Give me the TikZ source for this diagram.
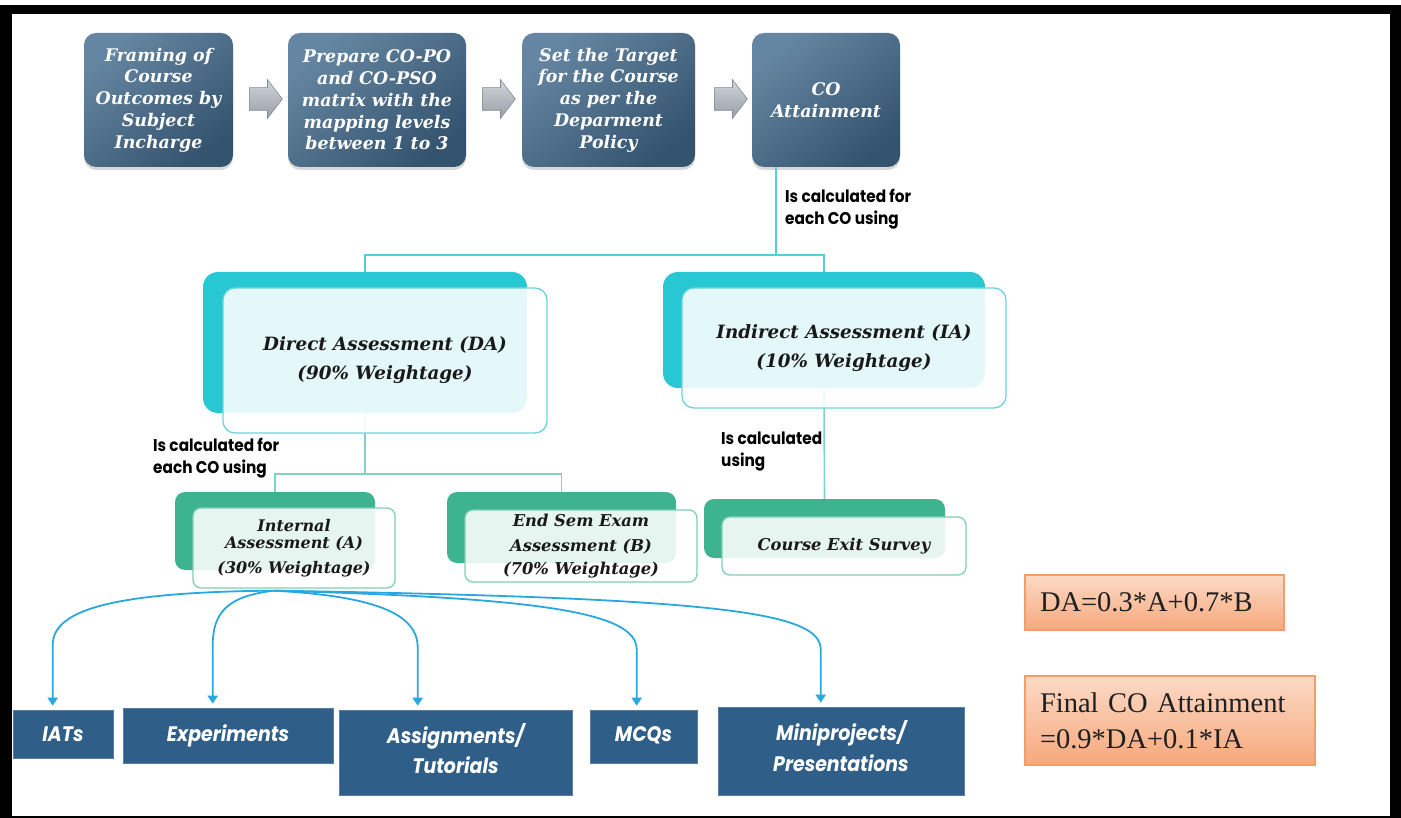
\documentclass[tikz,border=0pt]{standalone}
\usepackage{fontspec}
\setmainfont{DejaVu Serif}
\newfontfamily\formulafont{Liberation Serif}
\newfontfamily\geofont[FakeStretch=0.9]{Poppins}
\usetikzlibrary{shapes.arrows,arrows.meta,shadows,calc}

\definecolor{steellight}{HTML}{6586A2}
\definecolor{steeldark}{HTML}{34536E}
\definecolor{arrowlight}{HTML}{D0D4D9}
\definecolor{arrowdark}{HTML}{99A0A8}
\definecolor{arrowedge}{HTML}{858B93}
\definecolor{cyanback}{HTML}{27C8D3}
\definecolor{cyanedge}{HTML}{6CD3DC}
\definecolor{greenback}{HTML}{3DB38F}
\definecolor{greenedge}{HTML}{80CFB2}
\definecolor{topline}{HTML}{52CFDB}
\definecolor{mintline}{HTML}{80D3C2}
\definecolor{fanblue}{HTML}{29A8E0}
\definecolor{navybox}{HTML}{2F5E89}
\definecolor{peachtop}{HTML}{FCDAC6}
\definecolor{peachbot}{HTML}{F6A87C}
\definecolor{peachedge}{HTML}{F09E6C}

\tikzset{
  stepbox/.style={rectangle, rounded corners=12pt, inner sep=0pt,
    top color=steellight, bottom color=steeldark, shading angle=40,
    text=white, align=center,
    font=\fontsize{17.4}{21.7}\selectfont\bfseries\itshape,
    drop shadow={shadow xshift=0pt, shadow yshift=-3pt, opacity=0.3}},
  greyarrow/.style={single arrow, inner xsep=1pt, inner ysep=11pt,
    minimum height=33pt, single arrow head extend=8pt,
    single arrow tip angle=105, top color=arrowlight,
    bottom color=arrowdark, draw=arrowedge, line width=0.6pt},
  backcyan/.style={rectangle, rounded corners=15pt, fill=cyanback, inner sep=0pt},
  backgreen/.style={rectangle, rounded corners=10pt, fill=greenback, inner sep=0pt},
  frontbox/.style={rectangle, rounded corners=12pt, fill=white,
    fill opacity=0.88, text opacity=1, line width=1.3pt, align=center,
    inner sep=0pt, text=black!90},
  bigtext/.style={font=\fontsize{18.3}{29}\selectfont\bfseries\itshape},
  smalltext/.style={font=\fontsize{16.3}{25}\selectfont\bfseries\itshape},
  calcnote/.style={font=\geofont\bfseries\fontsize{17}{22}\selectfont,
    align=left, anchor=west, inner sep=0pt, text=black},
  topline/.style={draw=topline, line width=1.8pt},
  mintline/.style={draw=mintline, line width=1.6pt},
  fanarrow/.style={draw=fanblue, line width=1.8pt,
    -{Triangle[width=10pt,length=8pt]}},
  navy/.style={rectangle, fill=navybox, draw=navybox!80!white, line width=0.6pt,
    inner sep=0pt, text=white, align=center,
    font=\geofont\bfseries\itshape\fontsize{21}{30}\selectfont},
  formula/.style={rectangle, draw=peachedge, line width=1.2pt,
    top color=peachtop, bottom color=peachbot, inner xsep=15pt,
    inner ysep=0pt, align=left, text=black!88,
    font=\formulafont\fontsize{28.5}{36}\selectfont}
}

\begin{document}
\begin{tikzpicture}[x=1pt, y=-1pt]
\useasboundingbox (0,0) rectangle (1401,818);

% page frame
\fill[black] (0,5) rectangle (1401,818);
\fill[white] (12,14) rectangle (1390,816);

% process steps
\node[stepbox, minimum width=149pt, minimum height=134pt] (s1) at (158.5,100)
  {Framing of\\Course\\Outcomes by\\Subject\\Incharge};
\node[stepbox, minimum width=178pt, minimum height=134pt] (s2) at (377,100)
  {Prepare CO-PO\\and CO-PSO\\matrix with the\\mapping levels\\between 1 to 3};
\node[stepbox, minimum width=173pt, minimum height=134pt] (s3) at (608.5,100)
  {Set the Target\\for the Course\\as per the\\Deparment\\Policy};
\node[stepbox, minimum width=148pt, minimum height=134pt] (s4) at (826,100)
  {CO\\Attainment};

\node[greyarrow] (a1) at (261.5,99) {};
\node[greyarrow] (a2) at (494.5,99) {};
\node[greyarrow] (a3) at (726.5,99) {};

% back panels of the assessment cards
\node[backcyan, minimum width=324pt, minimum height=141pt] (daB) at (365,342.5) {};
\node[backcyan, minimum width=322pt, minimum height=116pt] (iaB) at (824,330) {};
\node[backgreen, minimum width=200pt, minimum height=78pt] (intB) at (275,531) {};
\node[backgreen, minimum width=229pt, minimum height=71pt] (esB) at (561.5,527.5) {};
\node[backgreen, minimum width=241pt, minimum height=59pt] (ceB) at (824.5,528.5) {};

% tree connectors
\coordinate (j1) at ($(s4.south west)+(24,88)$);
\draw[topline] ($(s4.south west)+(24,0)$) -- (j1);
\draw[topline] (daB.north) |- (j1) -| (iaB.north);
\draw[mintline] (daB.south) -- ++(0,61) coordinate (j2);
\draw[mintline] (intB.north) |- (j2) -| (esB.north);
\draw[mintline] (iaB.south) -- (ceB.north);

% front panels
\node[frontbox, draw=cyanedge, bigtext, minimum width=324pt, minimum height=145pt]
  (daF) at (385,360.5) {Direct Assessment (DA)\\(90\% Weightage)};
\node[frontbox, draw=cyanedge, bigtext, minimum width=324pt, minimum height=120pt]
  (iaF) at (844,348) {Indirect Assessment (IA)\\(10\% Weightage)};
\node[frontbox, draw=greenedge, rounded corners=8pt, minimum width=202pt, minimum height=80pt,
  font=\fontsize{16}{17}\selectfont\bfseries\itshape]
  (intF) at (294,548) {Internal\\Assessment (A)\\[8pt](30\% Weightage)};
\node[frontbox, draw=greenedge, rounded corners=8pt, smalltext, minimum width=232pt, minimum height=72pt]
  (esF) at (581,546) {End Sem Exam\\Assessment (B)\\[-2pt](70\% Weightage)};
\node[frontbox, draw=greenedge, rounded corners=8pt, smalltext, minimum width=244pt, minimum height=58pt]
  (ceF) at (844,546) {Course Exit Survey};

% connector notes
\node[calcnote] (n1) at (785,209) {Is calculated for\\each CO using};
\node[calcnote] (n2) at (153,458) {Is calculated for\\each CO using};
\node[calcnote] (n3) at (721,452) {Is calculated\\using};

% assessment tools
\node[navy, minimum width=100pt, minimum height=48pt] (iat) at (63,734) {IATs};
\node[navy, minimum width=210pt, minimum height=55pt] (exp) at (228,735.5)
  {\raisebox{4pt}{Experiments}};
\node[navy, minimum width=233pt, minimum height=85pt] (asg) at (455.5,752.5)
  {\raisebox{8pt}{\shortstack{Assignments/\\[5pt]Tutorials}}};
\node[navy, minimum width=107pt, minimum height=53pt] (mcq) at (643.5,736.5)
  {\raisebox{4pt}{MCQs}};
\node[navy, minimum width=246pt, minimum height=88pt] (mini) at (841,751)
  {\raisebox{10pt}{\shortstack{Miniprojects/\\[5pt]Presentations}}};

% fan of arrows from the internal assessment
\coordinate (fan) at ($(intF.south)+(-20,2)$);
\draw[fanarrow] (fan) .. controls (120,592) and (53,608) .. ($(iat.north west)+(40,-65)$)
  -- ($(iat.north west)+(40,-4)$);
\draw[fanarrow] (fan) .. controls (228,596) and (213,612) .. ($(exp.north west)+(90,-63)$)
  -- ($(exp.north west)+(90,-4)$);
\draw[fanarrow] (fan) .. controls (370,596) and (418,612) .. ($(asg.north west)+(79,-62)$)
  -- ($(asg.north west)+(79,-4)$);
\draw[fanarrow] (fan) .. controls (540,598) and (637,612) .. ($(mcq.north west)+(47,-60)$)
  -- ($(mcq.north west)+(47,-4)$);
\draw[fanarrow] (fan) .. controls (720,598) and (821,612) .. ($(mini.north west)+(103,-57)$)
  -- ($(mini.north west)+(103,-4)$);

% formulas
\node[formula, text width=229pt, minimum height=55pt] (f1) at (1154.5,602.5)
  {DA=0.3*A+0.7*B};
\node[formula, text width=260pt, minimum height=89pt] (f2) at (1170,720.5)
  {Final CO Attainment\\=0.9*DA+0.1*IA};
\end{tikzpicture}
\end{document}
